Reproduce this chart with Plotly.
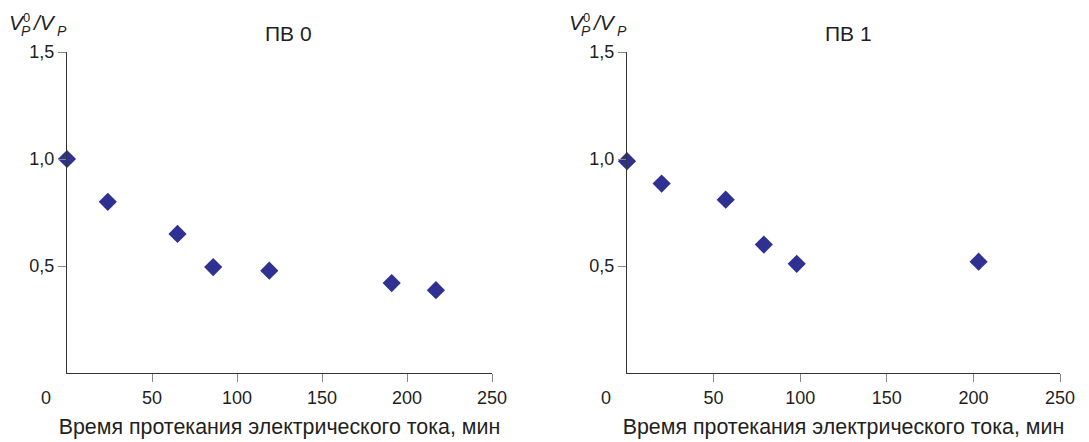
import plotly.graph_objects as go

# Data
pv0_time = [0, 24, 65, 86, 119, 191, 217]
pv0_ratio = [1.0, 0.80, 0.65, 0.495, 0.478, 0.42, 0.387]
pv1_time = [0, 20, 57, 79, 98, 203]
pv1_ratio = [0.99, 0.885, 0.81, 0.60, 0.51, 0.52]

panel_titles = ["ПВ 0", "ПВ 1"]
x_tickvals = [50, 100, 150, 200, 250]
x_ticktext = ["50", "100", "150", "200", "250"]
y_tickvals = [0.5, 1.0, 1.5]
y_ticktext = ["0,5", "1,0", "1,5"]
x_title = "Время протекания электрического тока, мин"

W, H = 1089, 442
PAGE_OFF = 8  # the page body adds an 8 px margin around the figure
FONT = "Liberation Sans, Arial, sans-serif"
TXT = "#231f20"
MARK = "#2e3192"
FS = 18


def fx(px):
    return (px - PAGE_OFF) / W


def fy(py):
    return (H - (py - PAGE_OFF)) / H


fig = go.Figure()
fig.add_trace(go.Scatter(x=pv0_time, y=pv0_ratio, mode="markers", xaxis="x", yaxis="y",
                         cliponaxis=False,
                         marker=dict(symbol="diamond", size=14, color=MARK), showlegend=False))
fig.add_trace(go.Scatter(x=pv1_time, y=pv1_ratio, mode="markers", xaxis="x2", yaxis="y2",
                         cliponaxis=False,
                         marker=dict(symbol="diamond", size=14, color=MARK), showlegend=False))

dom1 = [fx(67), fx(492)]
dom2 = [fx(627), fx(1060)]
ydom = [fy(373), fy(52)]

xcommon = dict(range=[0, 250], tickvals=x_tickvals, ticktext=x_ticktext, showgrid=False,
               zeroline=False, showline=True, linecolor="#333333", linewidth=1.3,
               ticks="outside", ticklen=8, tickcolor="#888888", tickwidth=1.3,
               automargin=False,
               tickfont=dict(family=FONT, size=FS, color=TXT),
               title=dict(text=x_title, font=dict(family=FONT, size=21.4, color=TXT), standoff=12))
ycommon = dict(range=[0, 1.5], tickvals=y_tickvals, ticktext=y_ticktext, showgrid=False,
               zeroline=False, showline=True, linecolor="#333333", linewidth=1.3,
               ticks="outside", ticklen=8, tickcolor="#888888", tickwidth=1.3,
               automargin=False,
               tickfont=dict(family=FONT, size=FS, color=TXT))

fig.update_layout(
    width=W, height=H,
    margin=dict(l=0, r=0, t=0, b=0),
    paper_bgcolor="white", plot_bgcolor="white",
    xaxis=dict(domain=dom1, anchor="y", **xcommon),
    yaxis=dict(domain=ydom, anchor="x", **ycommon),
    xaxis2=dict(domain=dom2, anchor="y2", **xcommon),
    yaxis2=dict(domain=ydom, anchor="x2", **ycommon),
)

annotations = []
for i, (xr, yr) in enumerate([("x", "y"), ("x2", "y2")]):
    off = 560 * i
    # panel title
    annotations.append(dict(text=panel_titles[i], xref="paper", yref="paper",
                            x=fx(288 + off), y=fy(33),
                            showarrow=False, xanchor="center", yanchor="middle",
                            font=dict(family=FONT, size=21, color=TXT)))
    # origin label "0"
    annotations.append(dict(text="0", xref=xr, yref=yr, x=0, y=0, xshift=-21, yshift=-25,
                            showarrow=False, xanchor="center", yanchor="middle",
                            font=dict(family=FONT, size=FS, color=TXT)))
    # y axis title V_P^0 / V_P, built from pieces so that 0 and P stack
    parts = [
        ("<i>V</i>", 8, 22, 21),
        ("0", 22, 17, 13),
        ("<i>P</i>", 20, 31, 14),
        ("<i>/V</i>", 31, 22, 21),
        ("<i>P</i>", 56, 31, 14),
    ]
    for text, px, py, fs in parts:
        annotations.append(dict(text=text, xref="paper", yref="paper",
                                x=fx(px + off), y=fy(py),
                                showarrow=False, xanchor="left", yanchor="middle", borderpad=0,
                                font=dict(family=FONT, size=fs, color=TXT)))
fig.update_layout(annotations=annotations)

fig.write_html("out.html")
